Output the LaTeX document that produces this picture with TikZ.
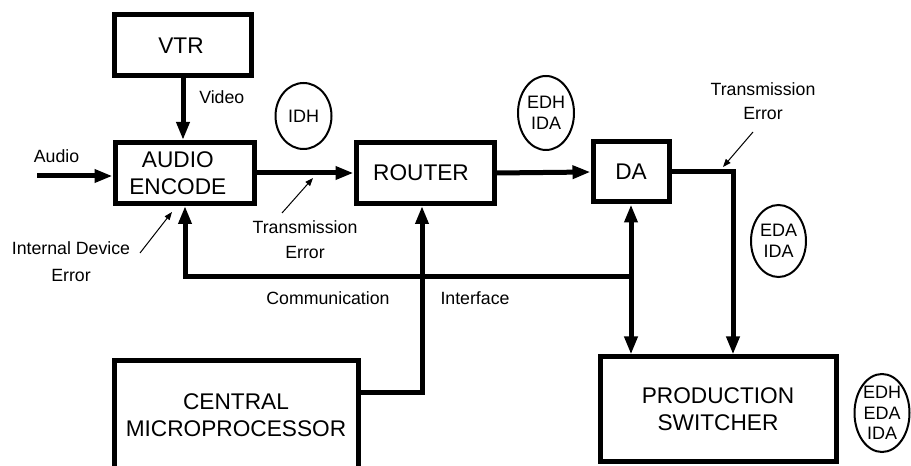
\documentclass[tikz,border=0pt]{standalone}
\usepackage{fontspec}
\setmainfont{Liberation Sans}
\usetikzlibrary{arrows.meta,shapes.geometric}
\begin{document}
\begin{tikzpicture}[x=0.75pt,y=-0.75pt,
  box/.style={draw, line width=3.75pt, rectangle, inner sep=0pt, align=center, font=\fontsize{17pt}{20pt}\selectfont},
  lbl/.style={inner sep=0pt, align=center, font=\fontsize{13.3pt}{18.75pt}\selectfont},
  elli/.style={draw, ellipse, line width=1.5pt, inner sep=0pt},
  ellitext/.style={inner sep=0pt, align=center, font=\fontsize{13.5pt}{15.6pt}\selectfont},
  wire/.style={line width=3.75pt},
  arr/.style={wire, -{Triangle[length=13.5pt,width=9.5pt]}},
  darr/.style={wire, {Triangle[length=13.5pt,width=9.5pt]}-{Triangle[length=13.5pt,width=9.5pt]}},
  thinarr/.style={line width=0.75pt, -{Triangle[length=6pt,width=4.5pt]}}
]
\useasboundingbox (0,0) rectangle (911,466);
\clip (0,0) rectangle (911,466);

% boxes
\node[box, minimum width=102.75pt, minimum height=45.75pt] (vtr) at (183,45.5) {VTR\hspace*{3pt}};
\node[box, minimum width=104.25pt, minimum height=45.75pt] (audio) at (184.5,173) {AUDIO\hspace*{10pt}\\ENCODE\hspace*{10pt}};
\node[box, minimum width=103.5pt, minimum height=45.75pt] (router) at (425,173) {ROUTER\hspace*{6pt}};
\node[box, minimum width=57pt, minimum height=45pt] (da) at (631,172) {DA};
\node[box, minimum width=177pt, minimum height=78.75pt] (ps) at (718,409.5) {PRODUCTION\\SWITCHER};
\node[box, minimum width=183pt, minimum height=81pt] (cm) at (236,415) {CENTRAL\\MICROPROCESSOR};

% ellipses
\node[elli, minimum width=42pt, minimum height=49.5pt] (e1) at (303.5,116) {};
\node[ellitext] at (e1) {IDH};
\node[elli, minimum width=42pt, minimum height=55.5pt] (e2) at (546,113) {};
\node[ellitext] at (e2) {EDH\\IDA};
\node[elli, minimum width=41.25pt, minimum height=54pt] (e3) at (778.5,241) {};
\node[ellitext] at (e3) {EDA\\IDA};
\node[elli, minimum width=41.25pt, minimum height=58.5pt] (e4) at (882,413) {};
\node[ellitext] at (e4) {EDH\\EDA\\IDA};

% labels
\node[lbl, anchor=west] (video) at (199,97) {Video};
\node[lbl] (audiol) at (56.5,156) {Audio};
\node[lbl] (te1) at (305,239.5) {Transmission\\Error};
\node[lbl, font=\fontsize{13.3pt}{18pt}\selectfont] (te2) at (763,101) {Transmission\\Error};
\node[lbl, font=\fontsize{13.3pt}{20pt}\selectfont] (ide) at (71,261.5) {Internal Device\\Error};
\node[lbl] (comm) at (328,298) {Communication};
\node[lbl] (intf) at (475,298) {Interface};

% connectors
\draw[arr] (vtr.south) -- (vtr.south |- audio.north);
\coordinate (ain) at (37,176);
\draw[arr] (ain) -- (ain -| audio.west);
\draw[arr] (audio.east) -- (router.west);
\draw[arr] (router.east) -- (da.west);
\coordinate (dc) at (733,172);
\draw[arr] (da.east) -- (dc) -- (dc |- ps.north);
\draw[darr] (da.south) -- (da.south |- ps.north);
\coordinate (j1) at (631,277);
\coordinate (j2) at (185,277);
\draw[arr] (j1) -- (j2) -- (j2 |- audio.south);
\coordinate (c2) at (422,393);
\draw[arr] (cm.east |- c2) -- (c2) -- (c2 |- router.south);

% thin arrows
\coordinate (t1s) at (282,213);
\coordinate (t1e) at (313,178);
\draw[thinarr] (t1s) -- (t1e);
\coordinate (t2s) at (753,132);
\coordinate (t2e) at (723,167);
\draw[thinarr] (t2s) -- (t2e);
\coordinate (t3s) at (140,253);
\coordinate (t3e) at (172,212);
\draw[thinarr] (t3s) -- (t3e);
\end{tikzpicture}
\end{document}
